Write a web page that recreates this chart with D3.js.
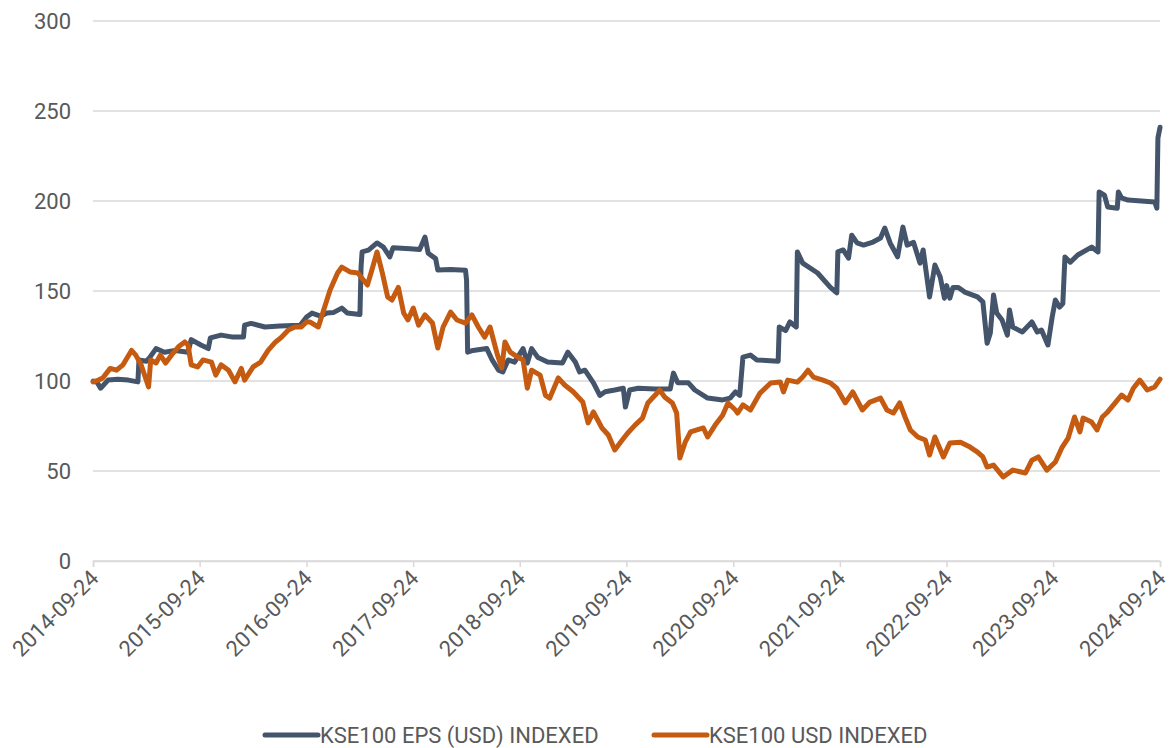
<!DOCTYPE html>
<meta charset="utf-8">
<style>
  body { margin: 0; background: #fff; }
  text { font-family: Roboto, "Liberation Sans", Arial, sans-serif; fill: #595959; }
</style>
<body>
<script src="https://d3js.org/d3.v7.min.js"></script>
<script>

// series names
var seriesNames = ["KSE100 EPS (USD) INDEXED", "KSE100 USD INDEXED"];

// KSE100 EPS (USD) indexed - dates as decimal years
var epsYears = [2014.73,2014.77,2014.80,2014.87,2014.96,2015.06,2015.15,2015.16,2015.23,2015.26,2015.32,2015.40,2015.50,2015.62,2015.65,2015.74,2015.81,2015.83,2015.93,2016.03,2016.14,2016.15,2016.21,2016.34,2016.48,2016.67,2016.73,2016.78,2016.86,2016.92,2016.98,2017.06,2017.11,2017.23,2017.24,2017.25,2017.31,2017.39,2017.45,2017.51,2017.54,2017.70,2017.79,2017.84,2017.87,2017.94,2017.96,2018.08,2018.22,2018.23,2018.24,2018.29,2018.42,2018.47,2018.53,2018.57,2018.62,2018.68,2018.76,2018.80,2018.84,2018.90,2018.99,2019.13,2019.18,2019.25,2019.29,2019.34,2019.42,2019.48,2019.53,2019.62,2019.70,2019.72,2019.76,2019.84,2020.00,2020.14,2020.17,2020.21,2020.31,2020.37,2020.49,2020.63,2020.70,2020.75,2020.79,2020.82,2020.89,2020.95,2021.15,2021.16,2021.22,2021.26,2021.32,2021.33,2021.38,2021.52,2021.64,2021.70,2021.71,2021.76,2021.81,2021.84,2021.89,2021.95,2022.04,2022.11,2022.15,2022.20,2022.27,2022.32,2022.36,2022.42,2022.48,2022.51,2022.57,2022.62,2022.67,2022.71,2022.73,2022.76,2022.79,2022.84,2022.90,2023.02,2023.07,2023.11,2023.14,2023.17,2023.20,2023.25,2023.30,2023.32,2023.35,2023.44,2023.53,2023.58,2023.62,2023.68,2023.72,2023.75,2023.79,2023.82,2023.84,2023.89,2023.96,2024.09,2024.15,2024.16,2024.21,2024.24,2024.33,2024.34,2024.37,2024.43,2024.68,2024.70,2024.71,2024.73];
var epsValues = [100,99,96,100.5,101,100.5,99.5,111.7,111,113,118,116,117,116,123,120,118,124,125.5,124.5,124.5,131,132,130,130.5,131,135.5,137.7,136,137.8,138,140.5,137.8,137,163,171.7,172.7,176.7,174.4,169,174,173.5,173,180,171,168,161.7,162,161.5,156,116,117,118,111.7,106,105,111.7,110.5,118,110,118,113,110.5,110,116,110.5,105,106,99,92,94,95,96,85.5,95,96,95.5,95.5,104.4,99,99,95,90.5,89.5,90.5,94,92,113.3,114.4,111.7,111,130,128,132.8,130,171.7,165.5,160,152,149,171.7,172.8,168.3,181,176.7,175.5,177.2,179.4,185,176.7,169,185.5,175.5,177,165.5,172.8,146.7,164.4,157.8,146,153,146,152,152,149.4,146.7,144,121,126.7,147.8,137.8,133.9,125.5,139.4,130,127.2,132.8,127.2,128.3,120,135.5,145,141,143,168.9,166,170,174.4,171.7,205,203.3,196.7,196,205,201.7,200.5,199.5,196,235,241];

// KSE100 USD indexed
var usdYears = [2014.73,2014.78,2014.82,2014.89,2014.95,2015.01,2015.09,2015.13,2015.18,2015.25,2015.27,2015.32,2015.36,2015.41,2015.48,2015.53,2015.59,2015.62,2015.65,2015.71,2015.76,2015.84,2015.88,2015.93,2016.00,2016.06,2016.12,2016.15,2016.23,2016.30,2016.37,2016.44,2016.49,2016.56,2016.62,2016.68,2016.73,2016.76,2016.84,2016.89,2016.95,2017.02,2017.06,2017.14,2017.21,2017.30,2017.35,2017.39,2017.44,2017.49,2017.53,2017.59,2017.64,2017.68,2017.73,2017.78,2017.84,2017.91,2017.96,2018.01,2018.08,2018.14,2018.22,2018.28,2018.34,2018.40,2018.45,2018.52,2018.56,2018.59,2018.64,2018.71,2018.76,2018.80,2018.84,2018.92,2018.97,2019.01,2019.09,2019.15,2019.23,2019.32,2019.37,2019.42,2019.50,2019.56,2019.62,2019.69,2019.74,2019.81,2019.88,2019.93,2020.00,2020.04,2020.09,2020.16,2020.20,2020.23,2020.28,2020.33,2020.39,2020.45,2020.49,2020.56,2020.63,2020.68,2020.75,2020.77,2020.82,2020.89,2020.98,2021.08,2021.17,2021.20,2021.24,2021.33,2021.38,2021.43,2021.48,2021.57,2021.64,2021.70,2021.78,2021.85,2021.94,2022.01,2022.11,2022.17,2022.23,2022.29,2022.34,2022.39,2022.46,2022.53,2022.57,2022.62,2022.70,2022.76,2022.86,2022.95,2023.02,2023.07,2023.11,2023.17,2023.26,2023.35,2023.47,2023.53,2023.59,2023.67,2023.75,2023.81,2023.87,2023.93,2023.98,2024.01,2024.09,2024.14,2024.19,2024.24,2024.31,2024.37,2024.43,2024.48,2024.54,2024.61,2024.68,2024.73];
var usdValues = [99.5,100.5,101.7,107,106,109,117,114.4,109,96.7,111.7,110,114.4,110,115.5,119,121.7,120,109,107.8,111.7,110.5,103.3,109,106,99.5,107,100.5,107.8,110.5,117,121.7,124,128.3,130,130,132.8,132.8,130,139.4,150.5,160,163.3,160.5,160,153.3,163.3,171.7,160,146.7,145,152,137.8,133.9,140.5,131,136.7,132.2,118.3,130,138.3,133.9,132.2,136.7,130,124.4,130,114.4,107.2,121.7,116,113.3,111.7,96,106,103.3,92,90.5,101.7,97.8,94,88.3,76.7,82.8,73.9,70,61.7,67.2,71,75.5,79.4,87.8,92.2,95,91,87.8,82.2,57.2,66,71.7,72.8,73.9,68.9,75.5,81,87.8,83.9,82.2,86.7,83.9,93.3,98.9,99.4,93.9,100.5,99.4,102.2,106,102.2,100.5,98.9,96,87.8,93.9,83.9,88.3,90.5,83.9,82.2,87.8,80,72.8,68.9,67.2,58.9,68.9,57.8,65.5,66,63.3,60.5,57.8,52.2,53.3,46.7,50.5,48.9,56,57.8,50.5,55,62.8,68.3,80,71.7,79.4,77.2,72.8,80,82.8,87.8,92.2,89.4,96,100.5,95,96.7,101];

// axis ticks
var yTicks = [0, 50, 100, 150, 200, 250, 300];
var xTickLabels = ["2014-09-24","2015-09-24","2016-09-24","2017-09-24","2018-09-24","2019-09-24","2020-09-24","2021-09-24","2022-09-24","2023-09-24","2024-09-24"];

var colors = ["#44546A", "#C55A11"];

// decimal year -> Date
function toDate(y) {
  var yr = Math.floor(y);
  var s = Date.UTC(yr, 0, 1), e = Date.UTC(yr + 1, 0, 1);
  return new Date(s + (y - yr) * (e - s));
}
var parse = d3.utcParse("%Y-%m-%d");

var W = 1173, H = 748;
var margin = {top: 21, right: 13, bottom: 187, left: 93},
    width = W - margin.left - margin.right,
    height = H - margin.top - margin.bottom;

var svg = d3.select("body").append("svg")
    .attr("width", W)
    .attr("height", H);
var g = svg.append("g")
    .attr("transform", "translate(" + margin.left + "," + margin.top + ")");

var x = d3.scaleUtc()
    .domain([parse(xTickLabels[0]), parse(xTickLabels[xTickLabels.length - 1])])
    .range([0, width]);
var y = d3.scaleLinear()
    .domain([0, 300])
    .range([height, 0]);

// gridlines
g.append("g")
  .selectAll("line")
  .data(yTicks)
  .enter().append("line")
    .attr("x1", 0)
    .attr("x2", width)
    .attr("y1", function(d) { return y(d); })
    .attr("y2", function(d) { return y(d); })
    .attr("stroke", "#D9D9D9")
    .attr("stroke-width", 1.5);

// y labels
g.append("g")
  .selectAll("text")
  .data(yTicks)
  .enter().append("text")
    .attr("x", -22)
    .attr("y", function(d) { return y(d); })
    .attr("dy", "0.35em")
    .attr("text-anchor", "end")
    .style("font-size", "22px")
    .text(function(d) { return d; });

// x axis
var xAxis = g.append("g")
    .attr("transform", "translate(0," + height + ")")
    .call(d3.axisBottom(x)
      .tickValues(xTickLabels.map(parse))
      .tickFormat(d3.utcFormat("%Y-%m-%d"))
      .tickSize(6));
xAxis.select(".domain").attr("stroke", "#D9D9D9").attr("stroke-width", 1.5);
xAxis.selectAll(".tick line").attr("stroke", "#D9D9D9").attr("stroke-width", 1.5);
xAxis.selectAll(".tick text")
    .attr("fill", "#595959")
    .style("font-size", "22px")
    .style("font-family", "Roboto, 'Liberation Sans', Arial, sans-serif")
    .attr("text-anchor", "end")
    .attr("x", 0)
    .attr("y", 0)
    .attr("dy", "0.35em")
    .attr("transform", "translate(1,13) rotate(-45)");

// lines
var line = d3.line()
    .x(function(d) { return x(toDate(d[0])); })
    .y(function(d) { return y(d[1]); });

var series = [
  d3.zip(epsYears, epsValues),
  d3.zip(usdYears, usdValues)
];

// draw EPS first, USD on top
series.forEach(function(s, i) {
  g.append("path")
    .datum(s)
    .attr("fill", "none")
    .attr("stroke", colors[i])
    .attr("stroke-width", 5)
    .attr("stroke-linejoin", "round")
    .attr("stroke-linecap", "round")
    .attr("d", line);
});

// legend
var legendX = [263, 652];
var legend = svg.append("g")
    .selectAll("g")
    .data(seriesNames)
    .enter().append("g")
    .attr("transform", function(d, i) { return "translate(" + legendX[i] + ",735)"; });
legend.append("line")
    .attr("x1", 2).attr("x2", 55)
    .attr("stroke", function(d, i) { return colors[i]; })
    .attr("stroke-width", 5)
    .attr("stroke-linecap", "round");
legend.append("text")
    .attr("x", 57)
    .attr("dy", "0.35em")
    .style("font-size", "22px")
    .text(function(d) { return d; });

</script>
</body>
